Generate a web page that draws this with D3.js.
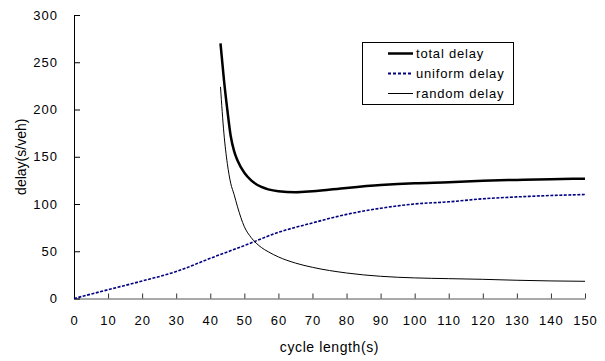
<!DOCTYPE html>
<html>
<head>
<meta charset="utf-8">
<script src="https://cdn.jsdelivr.net/npm/d3@7"></script>
<style>
  body { margin: 0; background: #fff; }
  text { font-family: Arial, "Liberation Sans", sans-serif; }
</style>
</head>
<body>
<div id="chart"></div>
<script>
const width = 605, height = 361, margin = {top: 15, right: 20, bottom: 62.5, left: 74};

// cycle length (s) and delays (s/veh)
const cycleTotal = [43, 44, 45, 46, 47, 48, 50, 52, 55, 57, 60, 65, 70, 80, 90, 100, 110, 120, 130, 140, 150];
const totalDelay = [270, 232, 200, 172, 156, 146, 133, 125, 118, 115.5, 113.5, 112.5, 113.5, 117, 120, 122, 123, 124.5, 125.5, 126.3, 126.8];
const randomDelay = [224, 175, 143, 122, 110, 97, 76, 64.5, 54, 49.5, 44, 37.5, 33, 27, 23.5, 21.8, 21, 20.3, 19.3, 18.6, 18.2];
const cycleUniform = [0, 10, 20, 30, 40, 50, 60, 70, 80, 90, 100, 110, 120, 130, 140, 150];
const uniformDelay = [0, 9.3, 18.5, 28.5, 42.5, 56, 70, 80, 89, 95.5, 100, 102.3, 105.5, 107.5, 109, 110];

const xTicks = d3.range(0, 151, 10);
const yTicks = [0, 50, 100, 150, 200, 250, 300];

const svg = d3.select("#chart")
  .append("svg")
  .attr("width", width)
  .attr("height", height);

const x = d3.scaleLinear()
    .domain([0, 150])
    .range([margin.left, 585]);

const y = d3.scaleLinear()
    .domain([0, 300])
    .range([height - margin.bottom, margin.top]);

// x axis, ticks pointing inward
const xAxis = svg.append("g")
  .attr("transform", `translate(0,${y(0)})`)
  .call(d3.axisBottom(x).tickValues(xTicks).tickSize(-5).tickPadding(17).tickSizeOuter(0));
xAxis.select(".domain").attr("stroke", "#555");
xAxis.selectAll(".tick line").attr("stroke", "#333");

// y axis, ticks pointing inward
const yAxis = svg.append("g")
  .attr("transform", `translate(${x(0)},0)`)
  .call(d3.axisLeft(y).tickValues(yTicks).tickSize(-6).tickPadding(16).tickSizeOuter(0));

svg.selectAll(".tick text")
  .attr("font-size", 13)
  .attr("letter-spacing", 1)
  .attr("fill", "#000");

// axis titles
svg.append("text")
  .attr("x", (x(0) + x(150)) / 2)
  .attr("y", 352)
  .attr("text-anchor", "middle")
  .attr("font-size", 14)
  .attr("letter-spacing", 0.6)
  .text("cycle length(s)");

svg.append("text")
  .attr("transform", `translate(26,${(y(0) + y(300)) / 2}) rotate(-90)`)
  .attr("text-anchor", "middle")
  .attr("font-size", 14)
  .text("delay(s/veh)");

const total = cycleTotal.map((c, i) => ({c, v: totalDelay[i]}));
const random = cycleTotal.map((c, i) => ({c, v: randomDelay[i]}));
const uniform = cycleUniform.map((c, i) => ({c, v: uniformDelay[i]}));

const lineGen = d3.line()
  .x(d => x(d.c))
  .y(d => y(d.v))
  .curve(d3.curveMonotoneX);

svg.append("path")
  .datum(uniform)
  .attr("fill", "none")
  .attr("stroke", "#000080")
  .attr("stroke-width", 1.6)
  .attr("stroke-dasharray", "3,1.5")
  .attr("d", lineGen);

svg.append("path")
  .datum(random)
  .attr("fill", "none")
  .attr("stroke", "#000")
  .attr("stroke-width", 1)
  .attr("d", lineGen);

svg.append("path")
  .datum(total)
  .attr("fill", "none")
  .attr("stroke", "#000")
  .attr("stroke-width", 2.5)
  .attr("d", lineGen);

// legend
const legend = svg.append("g").attr("transform", "translate(362,42)");
legend.append("rect")
  .attr("x", 0.5).attr("y", 0.5)
  .attr("width", 151).attr("height", 62)
  .attr("fill", "#fff")
  .attr("stroke", "#000");

const items = [
  {name: "total delay", color: "#000", w: 2.5, dash: null},
  {name: "uniform delay", color: "#000080", w: 2, dash: "3,2"},
  {name: "random delay", color: "#000", w: 1, dash: null}
];

items.forEach((it, i) => {
  const yy = 11.5 + i * 20;
  legend.append("line")
    .attr("x1", 26).attr("x2", 51)
    .attr("y1", yy).attr("y2", yy)
    .attr("stroke", it.color)
    .attr("stroke-width", it.w)
    .attr("stroke-dasharray", it.dash);
  legend.append("text")
    .attr("x", 54).attr("y", yy)
    .attr("dy", "0.35em")
    .attr("font-size", 13)
    .attr("letter-spacing", 0.8)
    .text(it.name);
});
</script>
</body>
</html>
